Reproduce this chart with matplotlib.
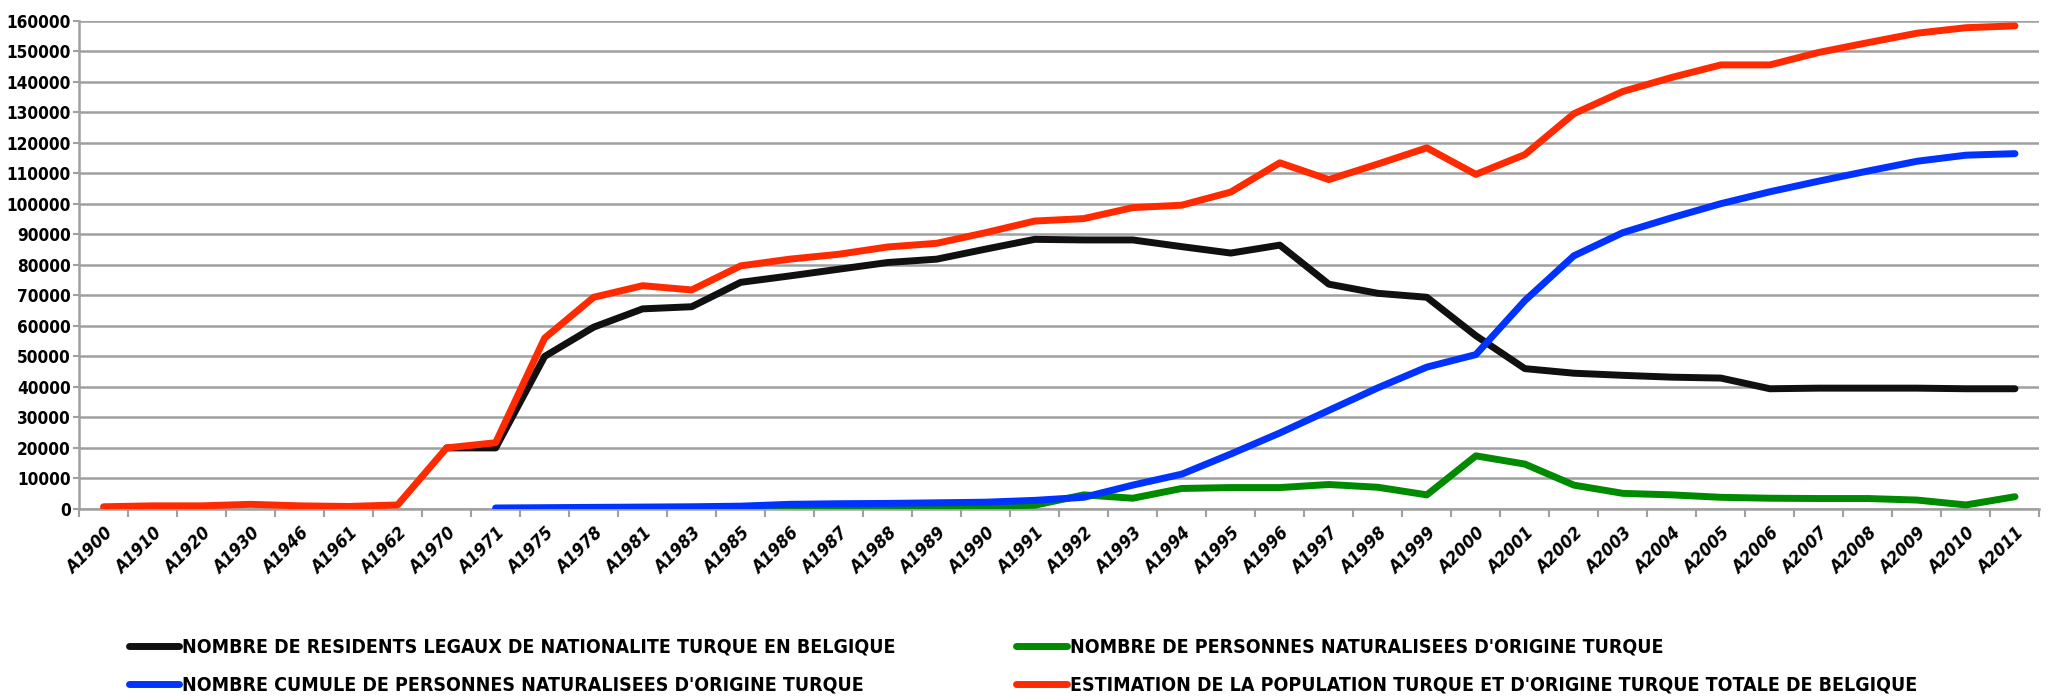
import numpy as np
import matplotlib
matplotlib.use('Agg')
import matplotlib.pyplot as plt

# categories (years) as shown on the x axis
years = ['A1900', 'A1910', 'A1920', 'A1930', 'A1946', 'A1961', 'A1962', 'A1970', 'A1971',
         'A1975', 'A1978', 'A1981', 'A1983', 'A1985', 'A1986', 'A1987', 'A1988', 'A1989',
         'A1990', 'A1991', 'A1992', 'A1993', 'A1994', 'A1995', 'A1996', 'A1997', 'A1998',
         'A1999', 'A2000', 'A2001', 'A2002', 'A2003', 'A2004', 'A2005', 'A2006', 'A2007',
         'A2008', 'A2009', 'A2010', 'A2011']

nan = np.nan
residents = [nan, nan, nan, nan, nan, nan, nan, 20000, 20000,
             50000, 59600, 65600, 66300, 74300, 76400, 78600, 80800, 81900,
             85200, 88400, 88200, 88200, 86000, 83900, 86500, 73700, 70700,
             69400, 56800, 46000, 44500, 43800, 43200, 42900, 39400, 39600,
             39600, 39600, 39400, 39400]
naturalises = [nan, nan, nan, nan, nan, nan, nan, nan, nan,
               nan, nan, nan, nan, 200, 300, 400, 500, 600,
               800, 1200, 4600, 3500, 6700, 7000, 7000, 8000, 7100,
               4600, 17400, 14700, 7800, 5100, 4600, 3800, 3500, 3400,
               3400, 2900, 1300, 4000]
cumul = [nan, nan, nan, nan, nan, nan, nan, nan, 300,
         400, 500, 600, 700, 900, 1500, 1700, 1800, 2000,
         2200, 2800, 3800, 7800, 11400, 18000, 24900, 32300, 39700,
         46500, 50600, 68300, 83000, 90600, 95500, 100100, 104000, 107500,
         110800, 114000, 116000, 116500]
estimation = [700, 1000, 1000, 1500, 1000, 800, 1300, 20000, 21700,
              56000, 69400, 73200, 71800, 79700, 81900, 83500, 85900, 87100,
              90600, 94400, 95200, 98800, 99600, 103900, 113500, 108000, 113100,
              118400, 109700, 116200, 129600, 136900, 141500, 145600, 145600, 149700,
              152900, 156000, 157800, 158400]

labels = ['NOMBRE DE RESIDENTS LEGAUX DE NATIONALITE TURQUE EN BELGIQUE',
          'NOMBRE CUMULE DE PERSONNES NATURALISEES D\'ORIGINE TURQUE',
          'NOMBRE DE PERSONNES NATURALISEES D\'ORIGINE TURQUE',
          'ESTIMATION DE LA POPULATION TURQUE ET D\'ORIGINE TURQUE TOTALE DE BELGIQUE']

fig = plt.figure(figsize=(20.58, 7), dpi=100)
ax = fig.add_axes([0.0384, 0.273, 0.9526, 0.697])

x = np.arange(len(years))
lw = 5
l1, = ax.plot(x, residents, color='#101010', lw=lw, solid_capstyle='round', zorder=3)
l2, = ax.plot(x, cumul, color='#0033ff', lw=lw, solid_capstyle='round', zorder=4)
l3, = ax.plot(x, naturalises, color='#008a00', lw=lw, solid_capstyle='round', zorder=3)
l4, = ax.plot(x, estimation, color='#ff2a00', lw=lw, solid_capstyle='round', zorder=5)

ax.set_xlim(-0.5, len(years) - 0.5)
ax.set_ylim(0, 160000)
ax.set_yticks(np.arange(0, 160001, 10000))
ax.set_yticklabels([str(v) for v in range(0, 160001, 10000)],
                   fontsize=12.3, fontweight='bold', fontstretch='condensed')
ax.set_xticks(x)
ax.set_xticklabels(years, rotation=45, ha='right', rotation_mode='anchor',
                   fontsize=13, fontweight='bold', style='italic',
                   fontstretch='condensed')
ax.set_xticks(np.arange(-0.5, len(years)), minor=True)
ax.tick_params(axis='x', which='major', length=0, pad=11)
ax.tick_params(axis='x', which='minor', length=6, width=1.5, color='#a0a0a0')
ax.tick_params(axis='y', length=4, width=1.5, color='#a0a0a0', pad=2)

ax.grid(axis='y', color='#a0a0a0', lw=1.8)
ax.set_axisbelow(True)
for s in ['top', 'right']:
    ax.spines[s].set_visible(False)
for s in ['left', 'bottom']:
    ax.spines[s].set_color('#a0a0a0')
    ax.spines[s].set_linewidth(1.8)

fig.legend([l1, l2, l3, l4], labels, ncol=2, loc='lower left',
           bbox_to_anchor=(0.054, -0.017), frameon=False, handlelength=2.6,
           handletextpad=0.15, columnspacing=6.2, labelspacing=0.95,
           prop={'family': 'DejaVu Sans', 'stretch': 'condensed',
                 'weight': 'bold', 'size': 14})

plt.savefig('out.png', dpi=100)
